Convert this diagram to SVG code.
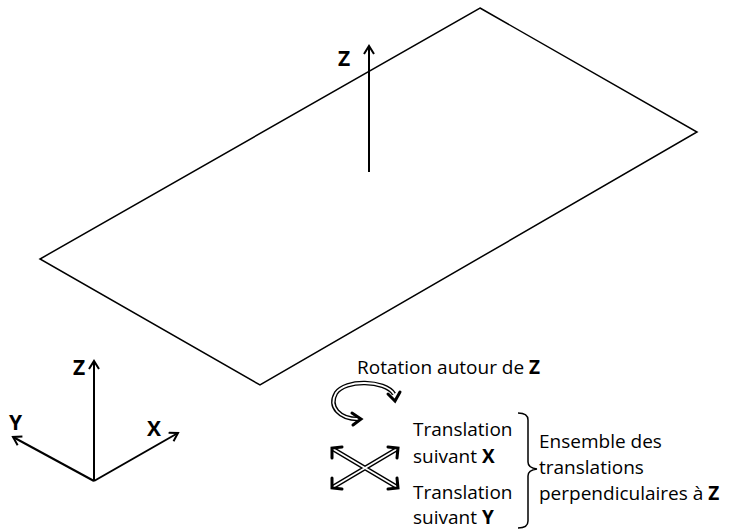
<svg xmlns="http://www.w3.org/2000/svg" width="729" height="531" viewBox="0 0 729 531">
<defs>
<style>
.ln{fill:none;stroke:#000;stroke-width:2}
.thin{fill:none;stroke:#000;stroke-width:1.5}
.t{font-family:"Open Sans","Liberation Sans",sans-serif;font-size:19px;fill:#000}
.ax{font-family:"Open Sans","Liberation Sans",sans-serif;font-size:21px;font-weight:bold;fill:#000}
.b{font-weight:bold}
.dbo{fill:none;stroke:#000;stroke-width:4.5}
.dbi{fill:none;stroke:#fff;stroke-width:1.8}
.hd{fill:none;stroke:#000;stroke-width:3;stroke-linecap:round;stroke-linejoin:miter}
</style>
<marker id="ah" viewBox="0 0 12 12" refX="10" refY="6" markerWidth="12" markerHeight="12" markerUnits="userSpaceOnUse" orient="auto">
<path d="M2,1 L10,6 L2,11" fill="none" stroke="#000" stroke-width="2"/>
</marker>
</defs>
<g id="plate">
<polygon points="480,8 697,132 260,385 40,259" fill="none" stroke="#000" stroke-width="1.5"/>
</g>
<g id="connectors">
<line class="ln" x1="369" y1="172" x2="369" y2="46" marker-end="url(#ah)"/>
<line class="ln" x1="94" y1="481" x2="94" y2="361" marker-end="url(#ah)"/>
<line class="ln" x1="94" y1="481" x2="13" y2="437" marker-end="url(#ah)"/>
<line class="ln" x1="94" y1="481" x2="178" y2="433" marker-end="url(#ah)"/>
<path class="thin" d="M518,413 Q528,413 528,420 L528,462 Q528,468 537,469 Q528,470 528,476 L528,521 Q528,528 518,528"/>
</g>
<g id="axis-z-top"><text class="ax" x="338" y="66">Z</text></g>
<g id="axes-labels">
<text class="ax" x="73" y="375">Z</text>
<text class="ax" x="9" y="430">Y</text>
<text class="ax" x="147" y="436">X</text>
</g>
<g id="rotation">
<path class="dbo" d="M394,394 C385,380 345,379 336,393 C328,407 340,419 358,419"/>
<path class="dbi" d="M394,394 C385,380 345,379 336,393 C328,407 340,419 358,419"/>
<path class="hd" d="M388,394 L395,401 L400,392"/>
<path class="hd" d="M352,413 L361,419 L353,425"/>
<text class="t" x="357" y="374">Rotation autour de <tspan class="b">Z</tspan></text>
</g>
<g id="translations">
<path class="dbo" d="M333,449 L397,487 M397,449 L333,487"/>
<path class="dbi" d="M333,449 L397,487 M397,449 L333,487"/>
<path class="hd" d="M332,458 L332,448 L342,447"/>
<path class="hd" d="M388,447 L398,448 L397,458"/>
<path class="hd" d="M332,478 L332,488 L342,489"/>
<path class="hd" d="M388,489 L398,488 L397,478"/>
<text class="t" x="413" y="436">Translation</text>
<text class="t" x="413" y="463">suivant <tspan class="b">X</tspan></text>
<text class="t" x="413" y="499">Translation</text>
<text class="t" x="413" y="524">suivant <tspan class="b">Y</tspan></text>
</g>
<g id="ensemble">
<text class="t" x="539" y="448">Ensemble des</text>
<text class="t" x="539" y="474">translations</text>
<text class="t" x="539" y="500">perpendiculaires à <tspan class="b">Z</tspan></text>
</g>
</svg>
